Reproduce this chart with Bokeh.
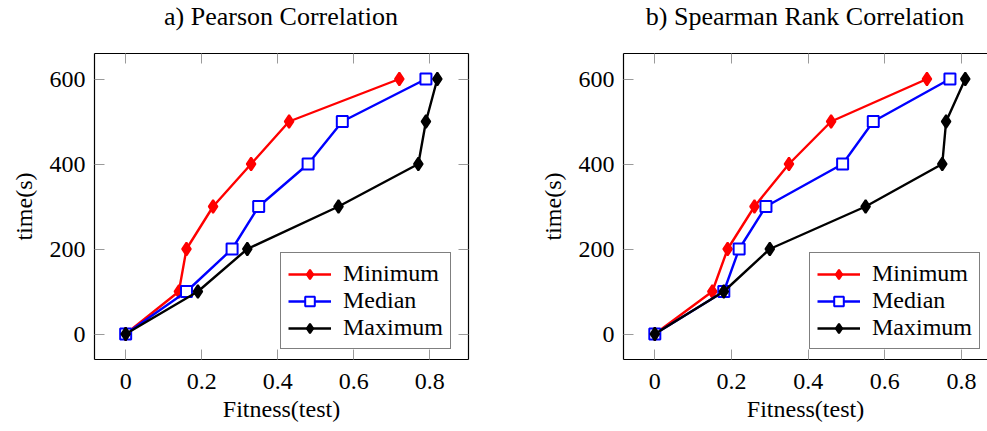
from bokeh.plotting import figure
from bokeh.layouts import row, column
from bokeh.models import LinearAxis, FixedTicker, Range1d, Legend, LegendItem, Div
from bokeh.embed import file_html
from bokeh.resources import INLINE

# ---------------- data ----------------
time_s = [0, 100, 200, 300, 400, 500, 600]

pearson_min = [0.0, 0.14, 0.16, 0.23, 0.33, 0.43, 0.72]
pearson_med = [0.0, 0.16, 0.28, 0.35, 0.48, 0.57, 0.79]
pearson_max = [0.0, 0.19, 0.32, 0.56, 0.77, 0.79, 0.82]

spearman_min = [0.0, 0.15, 0.19, 0.26, 0.35, 0.46, 0.71]
spearman_med = [0.0, 0.18, 0.22, 0.29, 0.49, 0.57, 0.77]
spearman_max = [0.0, 0.18, 0.30, 0.55, 0.75, 0.76, 0.81]

x_ticks = [0, 0.2, 0.4, 0.6, 0.8]
x_tick_labels = ["0", "0.2", "0.4", "0.6", "0.8"]
y_ticks = [0, 200, 400, 600]
y_tick_labels = ["0", "200", "400", "600"]

series_names = ["Minimum", "Median", "Maximum"]
titles = ["a) Pearson Correlation", "b) Spearman Rank Correlation"]

FONT = "Liberation Serif"
FS = "24px"

# layout constants (pixels)
TITLE_H = 36
FIG_H = 431 - TITLE_H
BORDER_TOP = 53 - TITLE_H
BORDER_BOTTOM = 72


def style_axis(ax, ticks, labels, show_labels=True):
    ax.ticker = FixedTicker(ticks=ticks)
    ax.major_label_overrides = {t: l for t, l in zip(ticks, labels)}
    ax.minor_tick_line_color = None
    ax.major_tick_in = 10
    ax.major_tick_out = 0
    ax.major_tick_line_color = "#9a9a9a"
    ax.major_tick_line_width = 1
    ax.axis_line_color = "black"
    ax.axis_line_width = 1.2
    ax.major_label_text_font = FONT
    ax.major_label_text_font_size = FS
    ax.major_label_text_color = "black"
    ax.axis_label_text_font = FONT
    ax.axis_label_text_font_size = FS
    ax.axis_label_text_font_style = "normal"
    ax.axis_label_text_color = "black"
    if not show_labels:
        ax.major_label_text_color = None


def make_title(text, width, pad_left, pad_right):
    html = ('<div style="width:%dpx; box-sizing:border-box; padding-left:%dpx; '
            'padding-right:%dpx; padding-top:4px; text-align:center; '
            'font-family:\'Liberation Serif\'; font-size:26px; line-height:26px; '
            'color:black; white-space:nowrap;">%s</div>'
            % (width, pad_left, pad_right, text))
    return Div(text=html, width=width, height=TITLE_H, margin=0)


def make_plot(xmin, xmax, mins, meds, maxs, width, mb_left, mb_right,
              right_axis, legend_x):
    p = figure(width=width, height=FIG_H, output_backend="svg", toolbar_location=None,
               x_range=Range1d(xmin, xmax), y_range=Range1d(-60, 660),
               min_border_left=mb_left, min_border_right=mb_right,
               min_border_top=BORDER_TOP, min_border_bottom=BORDER_BOTTOM)
    p.outline_line_color = None
    p.xgrid.visible = False
    p.ygrid.visible = False
    p.background_fill_color = "white"
    p.border_fill_color = "white"

    xa = p.xaxis[0]
    ya = p.yaxis[0]
    style_axis(xa, x_ticks, x_tick_labels)
    style_axis(ya, y_ticks, y_tick_labels)
    xa.axis_label = "Fitness(test)"
    ya.axis_label = "time(s)"
    xa.major_label_standoff = 14
    xa.axis_label_standoff = 4
    ya.major_label_standoff = 9
    ya.axis_label_standoff = 10

    top = LinearAxis()
    style_axis(top, x_ticks, x_tick_labels, show_labels=False)
    p.add_layout(top, "above")
    if right_axis:
        rgt = LinearAxis()
        style_axis(rgt, y_ticks, y_tick_labels, show_labels=False)
        p.add_layout(rgt, "right")

    items = []
    specs = [
        (mins, "red", "diamond", 13, "red"),
        (meds, "blue", "square", 11, "white"),
        (maxs, "black", "diamond", 13, "black"),
    ]
    for name, (xs, col, mk, sz, fill) in zip(series_names, specs):
        ln = p.line(xs, time_s, line_color=col, line_width=2.4)
        sc = p.scatter(xs, time_s, marker=mk, size=sz, line_color=col,
                       fill_color=fill, line_width=2)
        items.append(LegendItem(label=name, renderers=[ln, sc]))

    leg = Legend(items=items, location=(legend_x, 10))
    leg.label_text_font = FONT
    leg.label_text_font_size = FS
    leg.label_text_color = "black"
    leg.glyph_width = 43
    leg.glyph_height = 24
    leg.label_height = 24
    leg.label_standoff = 12
    leg.spacing = 0
    leg.padding = 7
    leg.margin = 0
    leg.border_line_color = "black"
    leg.border_line_width = 1
    leg.background_fill_color = "white"
    leg.background_fill_alpha = 1
    p.add_layout(leg, "center")
    return p


p1 = make_plot(-0.082, 0.902, pearson_min, pearson_med, pearson_max,
               width=531, mb_left=94, mb_right=63, right_axis=True, legend_x=186)
p2 = make_plot(-0.0817, 0.868, spearman_min, spearman_med, spearman_max,
               width=456, mb_left=92, mb_right=0, right_axis=False, legend_x=186)

t1 = make_title(titles[0], 531, 94, 63)
t2 = make_title(titles[1], 456, 92, 0)

layout = column(row(t1, t2, spacing=0), row(p1, p2, spacing=0), spacing=0)
open("out.html", "w").write(file_html(layout, INLINE))
